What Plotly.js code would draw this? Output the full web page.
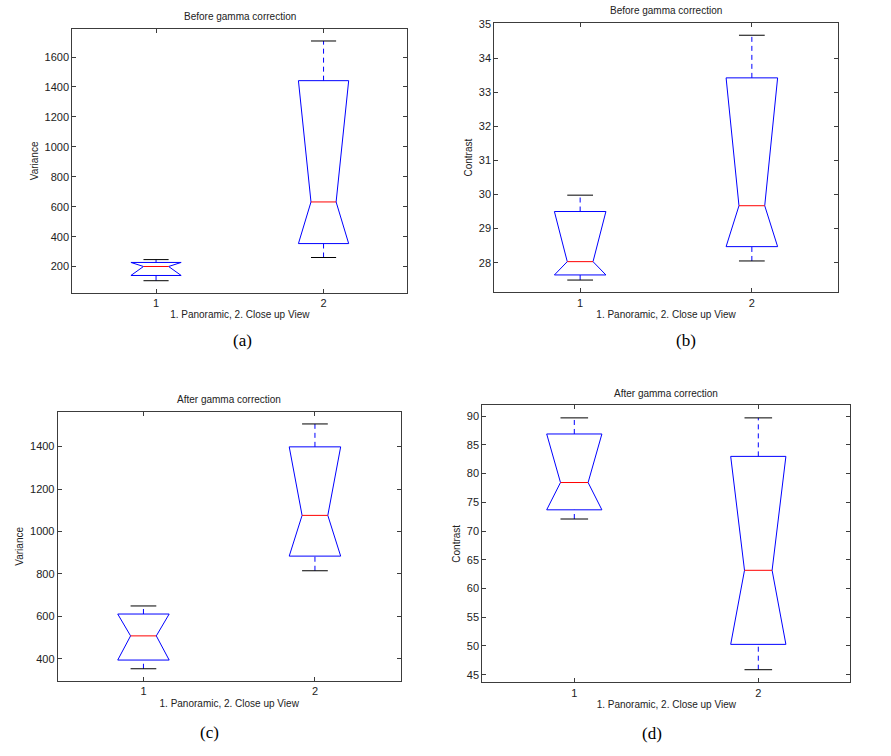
<!DOCTYPE html>
<html>
<head>
<meta charset="utf-8">
<script src="https://cdn.plot.ly/plotly-3.0.1.min.js"></script>
<style>html,body{margin:0;padding:0;background:#fff;}#chart{width:891px;height:756px;}</style>
</head>
<body>
<div id="chart"></div>
<script>
// ---- data ----
const categories = [1, 2];
const tickLabels = ['1', '2'];
const xAxisLabel = '1. Panoramic, 2. Close up View';

// (a) Before gamma correction – Variance
const aUpper  = [247, 1707];
const aQ3     = [228, 1442];
const aMedian = [201, 632];
const aQ1     = [141, 354];
const aLower  = [106, 261];

// (b) Before gamma correction – Contrast
const bUpper  = [29.98, 34.67];
const bQ3     = [29.50, 33.42];
const bMedian = [28.03, 29.67];
const bQ1     = [27.64, 28.47];
const bLower  = [27.49, 28.05];

// (c) After gamma correction – Variance
const cUpper  = [649, 1507];
const cQ3     = [611, 1399];
const cMedian = [508, 1076];
const cQ1     = [394, 884];
const cLower  = [353, 815];

// (d) After gamma correction – Contrast
const dUpper  = [89.7, 89.7];
const dQ3     = [86.9, 83.0];
const dMedian = [78.45, 63.17];
const dQ1     = [73.7, 50.28];
const dLower  = [72.1, 45.87];

const panels = [
  {title: 'Before gamma correction', ylabel: 'Variance', caption: '(a)', dtick: 200,
   up: aUpper, q3: aQ3, med: aMedian, q1: aQ1, lo: aLower},
  {title: 'Before gamma correction', ylabel: 'Contrast', caption: '(b)', dtick: 1,
   up: bUpper, q3: bQ3, med: bMedian, q1: bQ1, lo: bLower},
  {title: 'After gamma correction', ylabel: 'Variance', caption: '(c)', dtick: 200,
   up: cUpper, q3: cQ3, med: cMedian, q1: cQ1, lo: cLower},
  {title: 'After gamma correction', ylabel: 'Contrast', caption: '(d)', dtick: 5,
   up: dUpper, q3: dQ3, med: dMedian, q1: dQ1, lo: dLower}
];

// ---- layout geometry (pixels in the 891x756 figure) ----
const W = 891, H = 756;
const boxes = [
  {l: 72.3,  r: 407.3, t: 29,    b: 292.7, titleY: 16.7,  capX: 243,   capY: 340.7},
  {l: 494.3, r: 837.7, t: 23,    b: 292.3, titleY: 11,    capX: 685.7, capY: 340.7},
  {l: 57.7,  r: 400.7, t: 411.7, b: 681,   titleY: 399.3, capX: 209,   capY: 732.7},
  {l: 482.3, r: 850.3, t: 405.3, b: 682.3, titleY: 393.3, capX: 652,   capY: 733.3}
];
const halfW = 0.15, notchW = 0.075;
const axisColor = '#3c3c3c';
const sans = 'Liberation Sans, Arial, sans-serif';

const traces = [];
const layout = {
  width: W, height: H,
  margin: {l: 0, r: 0, t: 0, b: 0},
  paper_bgcolor: '#ffffff', plot_bgcolor: '#ffffff',
  showlegend: false,
  annotations: []
};

panels.forEach((p, k) => {
  const n = k + 1;
  const xa = 'x' + (n === 1 ? '' : n), ya = 'y' + (n === 1 ? '' : n);
  const boxX = [], boxY = [], medX = [], medY = [], whX = [], whY = [], capX = [], capY = [];
  categories.forEach((c, i) => {
    boxX.push(c - halfW, c + halfW, c + notchW, c + halfW, c - halfW, c - notchW, c - halfW, null);
    boxY.push(p.q3[i], p.q3[i], p.med[i], p.q1[i], p.q1[i], p.med[i], p.q3[i], null);
    medX.push(c - notchW, c + notchW, null);
    medY.push(p.med[i], p.med[i], null);
    whX.push(c, c, null, c, c, null);
    whY.push(p.q3[i], p.up[i], null, p.lo[i], p.q1[i], null);
    capX.push(c - notchW, c + notchW, null, c - notchW, c + notchW, null);
    capY.push(p.up[i], p.up[i], null, p.lo[i], p.lo[i], null);
  });
  const common = {type: 'scatter', mode: 'lines', xaxis: xa, yaxis: ya, hoverinfo: 'skip'};
  traces.push(Object.assign({}, common, {x: whX, y: whY, line: {color: '#0000ff', width: 1, dash: '5px,4px'}}));
  traces.push(Object.assign({}, common, {x: capX, y: capY, line: {color: '#000000', width: 1}}));
  traces.push(Object.assign({}, common, {x: boxX, y: boxY, line: {color: '#0000ff', width: 1}}));
  traces.push(Object.assign({}, common, {x: medX, y: medY, line: {color: '#ff0000', width: 1}}));

  const dmin = Math.min(...p.lo), dmax = Math.max(...p.up);
  const pad = 0.05 * (dmax - dmin);
  const g = boxes[k];
  const axBase = {
    showline: true, linecolor: axisColor, linewidth: 1, mirror: 'ticks',
    ticks: 'inside', ticklen: 4, tickcolor: axisColor, tickwidth: 1,
    showgrid: false, zeroline: false, fixedrange: true,
    tickfont: {family: sans, size: 11, color: '#222'}
  };
  layout['xaxis' + (n === 1 ? '' : n)] = Object.assign({}, axBase, {
    domain: [g.l / W, g.r / W], anchor: ya, range: [0.5, 2.5],
    tickmode: 'array', tickvals: categories, ticktext: tickLabels,
    title: {text: xAxisLabel, font: {family: sans, size: 10, color: '#222'}, standoff: 3}
  });
  layout['yaxis' + (n === 1 ? '' : n)] = Object.assign({}, axBase, {
    domain: [1 - g.b / H, 1 - g.t / H], anchor: xa, range: [dmin - pad, dmax + pad],
    tickmode: 'linear', dtick: p.dtick, tick0: 0,
    title: {text: p.ylabel, font: {family: sans, size: 10, color: '#222'}, standoff: 4}
  });
  layout.annotations.push({
    xref: 'paper', yref: 'paper', x: (g.l + g.r) / 2 / W, y: 1 - g.titleY / H,
    xanchor: 'center', yanchor: 'middle', showarrow: false, text: p.title,
    font: {family: sans, size: 10, color: '#222'}
  });
  layout.annotations.push({
    xref: 'paper', yref: 'paper', x: g.capX / W, y: 1 - g.capY / H,
    xanchor: 'center', yanchor: 'middle', showarrow: false, text: p.caption,
    font: {family: 'Liberation Serif, Times New Roman, serif', size: 17, color: '#000'}
  });
});

Plotly.newPlot('chart', traces, layout, {displayModeBar: false, staticPlot: true});
</script>
</body>
</html>
